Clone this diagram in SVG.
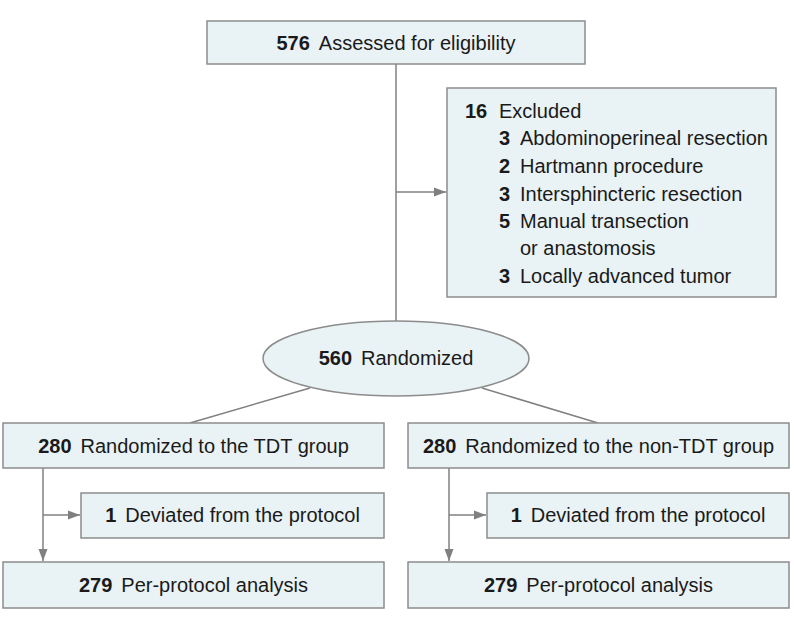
<svg xmlns="http://www.w3.org/2000/svg" width="794" height="629" viewBox="0 0 794 629">
<style>
.box{fill:#e9f2f4;stroke:#8c8c8c;stroke-width:1.5}
.t{font-family:"Liberation Sans",Arial,sans-serif;font-size:20px;fill:#1a1a1a}
.c{text-anchor:middle}
.b{font-weight:bold}
.ln{fill:none;stroke:#808080;stroke-width:1.5}
</style>
<defs>
<marker id="ah" viewBox="0 0 12 10" refX="12" refY="5" markerWidth="12" markerHeight="10" markerUnits="userSpaceOnUse" orient="auto">
<path d="M0,0.5 L12,5 L0,9.5 Z" fill="#808080"/>
</marker>
</defs>
<g id="connectors">
<line class="ln" x1="396" y1="64" x2="396" y2="321"/>
<line class="ln" x1="396" y1="192" x2="446" y2="192" marker-end="url(#ah)"/>
<line class="ln" x1="310" y1="388" x2="190" y2="423"/>
<line class="ln" x1="482" y1="388" x2="598" y2="423"/>
<line class="ln" x1="43" y1="468" x2="43" y2="561" marker-end="url(#ah)"/>
<line class="ln" x1="43" y1="515" x2="80" y2="515" marker-end="url(#ah)"/>
<line class="ln" x1="449" y1="468" x2="449" y2="561" marker-end="url(#ah)"/>
<line class="ln" x1="449" y1="515" x2="486" y2="515" marker-end="url(#ah)"/>
</g>
<g id="assessed">
<rect class="box" x="207" y="21" width="378" height="43"/>
<text class="t c" x="396" y="50"><tspan class="b">576</tspan><tspan dx="9">Assessed for eligibility</tspan></text>
</g>
<g id="excluded">
<rect class="box" x="447" y="88" width="329" height="209"/>
<text class="t" x="465" y="118"><tspan class="b">16</tspan><tspan x="499">Excluded</tspan></text>
<text class="t" x="499" y="145"><tspan class="b">3</tspan><tspan x="520">Abdominoperineal resection</tspan></text>
<text class="t" x="499" y="173"><tspan class="b">2</tspan><tspan x="520">Hartmann procedure</tspan></text>
<text class="t" x="499" y="201"><tspan class="b">3</tspan><tspan x="520">Intersphincteric resection</tspan></text>
<text class="t" x="499" y="228"><tspan class="b">5</tspan><tspan x="520">Manual transection</tspan></text>
<text class="t" x="520" y="255">or anastomosis</text>
<text class="t" x="499" y="283"><tspan class="b">3</tspan><tspan x="520">Locally advanced tumor</tspan></text>
</g>
<g id="randomized">
<ellipse class="box" cx="396" cy="358.5" rx="133" ry="37.5"/>
<text class="t c" x="396" y="365"><tspan class="b">560</tspan><tspan dx="9">Randomized</tspan></text>
</g>
<g id="tdt">
<rect class="box" x="3" y="423" width="381" height="45"/>
<text class="t c" x="193.5" y="453"><tspan class="b">280</tspan><tspan dx="9">Randomized to the TDT group</tspan></text>
</g>
<g id="nontdt">
<rect class="box" x="408" y="423" width="381" height="45"/>
<text class="t c" x="598.5" y="453"><tspan class="b">280</tspan><tspan dx="9">Randomized to the non-TDT group</tspan></text>
</g>
<g id="dev-left">
<rect class="box" x="81" y="493" width="303" height="45"/>
<text class="t c" x="232.5" y="522"><tspan class="b">1</tspan><tspan dx="9">Deviated from the protocol</tspan></text>
</g>
<g id="dev-right">
<rect class="box" x="487" y="493" width="302" height="45"/>
<text class="t c" x="638" y="522"><tspan class="b">1</tspan><tspan dx="9">Deviated from the protocol</tspan></text>
</g>
<g id="pp-left">
<rect class="box" x="3" y="562" width="381" height="46"/>
<text class="t c" x="193.5" y="592"><tspan class="b">279</tspan><tspan dx="9">Per-protocol analysis</tspan></text>
</g>
<g id="pp-right">
<rect class="box" x="408" y="562" width="381" height="46"/>
<text class="t c" x="598.5" y="592"><tspan class="b">279</tspan><tspan dx="9">Per-protocol analysis</tspan></text>
</g>
</svg>
